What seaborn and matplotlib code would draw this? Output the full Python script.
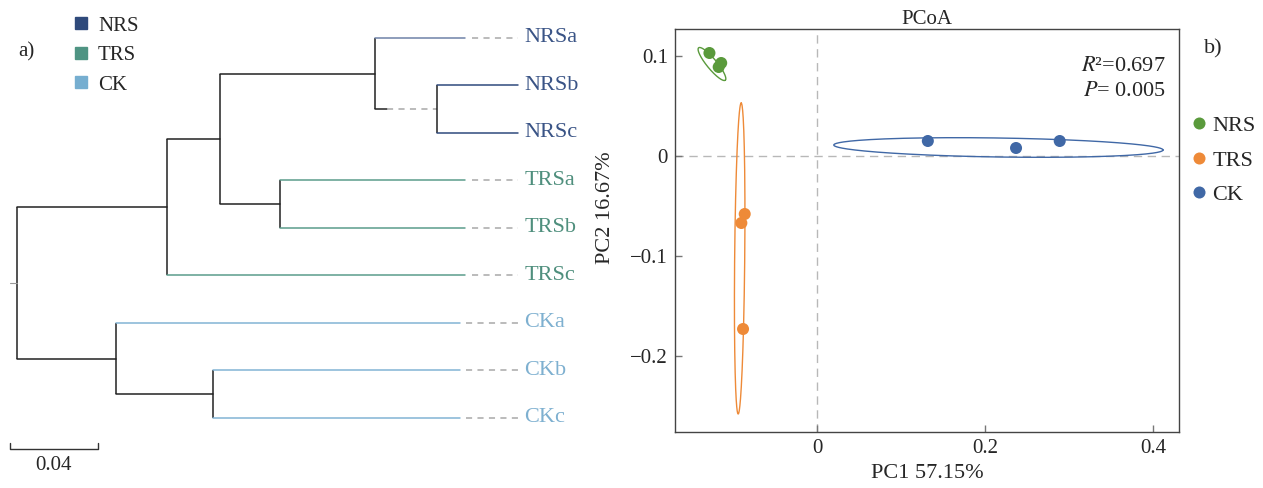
import numpy as np
import pandas as pd
import matplotlib
matplotlib.use("Agg")
from matplotlib import pyplot as plt
from matplotlib.lines import Line2D
import seaborn as sns

# ---- dendrogram data (branch lengths, 0.04 units) ----
leaf_names = ["NRSa", "NRSb", "NRSc", "TRSa", "TRSb", "TRSc", "CKa", "CKb", "CKc"]
leaf_groups = ["NRS", "NRS", "NRS", "TRS", "TRS", "TRS", "CK", "CK", "CK"]
leaf_tip = [0.2028, 0.2268, 0.2268, 0.2028, 0.2028, 0.2028, 0.2005, 0.2005, 0.2005]
node_names = ["root", "upper", "ck", "inner", "nrs", "nrsbc", "trs", "ckbc"]
node_depth = [0.0, 0.068, 0.0447, 0.092, 0.162, 0.190, 0.119, 0.0886]
node_children = [["upper", "ck"], ["inner", "TRSc"], ["CKa", "ckbc"], ["nrs", "trs"],
                 ["NRSa", "nrsbc"], ["NRSb", "NRSc"], ["TRSa", "TRSb"], ["CKb", "CKc"]]
label_end = 0.2268
scale_len = 0.04

# ---- PCoA data ----
pc1 = [-0.128, -0.114, -0.117, -0.086, -0.090, -0.088, 0.132, 0.237, 0.289]
pc2 = [0.103, 0.093, 0.089, -0.058, -0.067, -0.173, 0.015, 0.008, 0.015]
groups = ["NRS", "NRS", "NRS", "TRS", "TRS", "TRS", "CK", "CK", "CK"]
ell_center_x = [-0.125, -0.092, 0.216]
ell_center_y = [0.092, -0.1025, 0.0085]
ell_semi_major = [0.0227, 0.1555, 0.196]
ell_semi_minor = [0.0055, 0.006, 0.0095]
ell_angle = [-45.0, 89.34, -0.73]
group_order = ["NRS", "TRS", "CK"]

tree_colors = {"NRS": "#2f4a7d", "TRS": "#5b9c8b", "CK": "#82b4d4"}
tree_label_colors = {"NRS": "#3a5486", "TRS": "#4f8f7d", "CK": "#7eb0d0"}
legend_sq_colors = {"NRS": "#2f4a7b", "TRS": "#4f9483", "CK": "#76aed0"}
pcoa_colors = {"NRS": "#5a9a3c", "TRS": "#ee8a38", "CK": "#4068a6"}

sns.set_style("ticks")
plt.rcParams["font.family"] = ["Liberation Serif", "DejaVu Serif"]
plt.rcParams["mathtext.fontset"] = "stix"

fig = plt.figure(figsize=(12.63, 4.88), dpi=100)

# ================= a) dendrogram =================
ax_t = fig.add_axes([0, 0, 600 / 1263, 1])
ax_t.set_xlim(-0.00788, 0.2640)
ax_t.set_ylim(9.474, -0.8)
ax_t.axis("off")

depth = dict(zip(node_names, node_depth))
children = dict(zip(node_names, node_children))
ypos = {n: i for i, n in enumerate(leaf_names)}
group_of = dict(zip(leaf_names, leaf_groups))


def node_y(n):
    if n not in ypos:
        ypos[n] = np.mean([node_y(c) for c in children[n]])
    return ypos[n]


node_y("root")
lw = 1.1
for n in node_names:
    x0 = depth[n]
    ys = [ypos[c] for c in children[n]]
    ax_t.plot([x0, x0], [min(ys), max(ys)], color="#222222", lw=lw, solid_capstyle="butt")
    for c in children[n]:
        if c in depth:
            if c == "nrsbc":
                # this internal branch is drawn partly dashed in the figure
                ax_t.plot([x0, x0 + 0.0055], [ypos[c]] * 2, color="#222222", lw=lw)
                ax_t.plot([x0 + 0.0055, depth[c]], [ypos[c]] * 2, color="#a8a8a8",
                          lw=lw, ls=(0, (4, 3.5)))
            else:
                ax_t.plot([x0, depth[c]], [ypos[c]] * 2, color="#222222", lw=lw)
        else:
            g = group_of[c]
            col = "#6f82a8" if c == "NRSa" else tree_colors[g]
            tip = leaf_tip[leaf_names.index(c)]
            ax_t.plot([x0, tip], [ypos[c]] * 2, color=col, lw=lw)
            if tip < label_end - 0.001:
                ax_t.plot([tip + 0.003, label_end], [ypos[c]] * 2, color="#a8a8a8",
                          lw=lw, ls=(0, (4, 3.5)))

# root stub
ax_t.plot([-0.0032, 0], [ypos["root"]] * 2, color="#999999", lw=0.8)

for name in leaf_names:
    ax_t.text(label_end + 0.003, ypos[name], name, color=tree_label_colors[group_of[name]],
              fontsize=16, va="center", ha="left")

# scale bar
sb_y = 8.65
ax_t.plot([-0.0035, -0.0035, -0.0035 + scale_len, -0.0035 + scale_len],
          [sb_y - 0.12, sb_y, sb_y, sb_y - 0.12], color="#333333", lw=1.0)
ax_t.text(-0.0035 + scale_len / 2, 9.0, f"{scale_len:g}", ha="center", va="center", fontsize=15)

handles = [Line2D([], [], marker="s", ls="", color=legend_sq_colors[g], markersize=8)
           for g in group_order]
ax_t.legend(handles, group_order, loc="upper left", bbox_to_anchor=(73 / 600, 1 - 16 / 488),
            frameon=False, fontsize=15, handlelength=0.8, handletextpad=0.4,
            labelspacing=0.48, borderaxespad=0, borderpad=0)
fig.text(18 / 1263, 1 - 52 / 488, "a)", fontsize=15, va="center", ha="left")

# ================= b) PCoA =================
ax = fig.add_axes([675 / 1263, 1 - 432 / 488, 504 / 1263, 403 / 488])
df = pd.DataFrame({"PC1": pc1, "PC2": pc2, "group": groups})

ax.axvline(0, color="#b8b8b8", lw=1.0, ls=(0, (6, 4)), zorder=0)
ax.axhline(0, color="#b8b8b8", lw=1.0, ls=(0, (6, 4)), zorder=0)

t = np.linspace(0, 2 * np.pi, 300)
for i, g in enumerate(group_order):
    th = np.deg2rad(ell_angle[i])
    a, b = ell_semi_major[i], ell_semi_minor[i]
    ex = ell_center_x[i] + a * np.cos(t) * np.cos(th) - b * np.sin(t) * np.sin(th)
    ey = ell_center_y[i] + a * np.cos(t) * np.sin(th) + b * np.sin(t) * np.cos(th)
    ax.plot(ex, ey, color=pcoa_colors[g], lw=1.0)

sns.scatterplot(data=df, x="PC1", y="PC2", hue="group", hue_order=group_order,
                palette=pcoa_colors, s=75, edgecolor="none", ax=ax, zorder=3)

ax.set_xlim(-0.169, 0.431)
ax.set_ylim(-0.276, 0.127)
ax.set_xticks([0, 0.2, 0.4])
ax.set_xticklabels(["0", "0.2", "0.4"])
ax.set_yticks([0.1, 0, -0.1, -0.2])
ax.set_yticklabels(["0.1", "0", "\u22120.1", "\u22120.2"])
ax.tick_params(direction="in", length=5, width=1, color="#777777", labelsize=15, pad=5)
for sp in ax.spines.values():
    sp.set_visible(True)
    sp.set_color("#444444")
    sp.set_linewidth(1.0)

ax.set_xlabel("PC1 57.15%", fontsize=16, labelpad=4)
ax.set_ylabel("PC2 16.67%", fontsize=16, labelpad=6)
ax.yaxis.set_label_coords(-0.119, 0.556)
ax.set_title("PCoA", fontsize=15, pad=3)

ax.text(0.974, 0.906, "$R$\u00b2=0.697", transform=ax.transAxes, ha="right", va="center",
        fontsize=16)
ax.text(0.974, 0.846, "$P$= 0.005", transform=ax.transAxes, ha="right", va="center",
        fontsize=16)

sns.move_legend(ax, "upper left", bbox_to_anchor=(1.026, 0.785), frameon=False, title=None,
                fontsize=16, handlelength=0.6, handletextpad=0.3, labelspacing=0.62,
                borderaxespad=0, borderpad=0, markerscale=1.0)
fig.text(1204 / 1263, 1 - 49 / 488, "b)", fontsize=16, va="center", ha="left")

fig.savefig("out.png", dpi=100)
